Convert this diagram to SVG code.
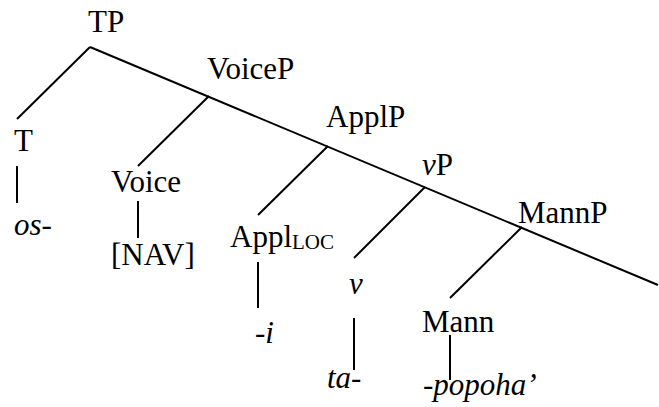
<svg xmlns="http://www.w3.org/2000/svg" width="659" height="407" viewBox="0 0 659 407">
<style>
.it{font-style:italic}
line{stroke:#000;stroke-width:2;fill:none}
</style>
<rect width="659" height="407" fill="#fff"/>
<g id="connectors">
<line x1="90" y1="47" x2="658" y2="285"/>
<line x1="90" y1="47" x2="17" y2="119"/>
<line x1="17" y1="166" x2="17" y2="203"/>
<line x1="209" y1="96" x2="138" y2="166"/>
<line x1="138" y1="201" x2="138" y2="238"/>
<line x1="328" y1="146" x2="258" y2="215"/>
<line x1="258" y1="262" x2="258" y2="308"/>
<line x1="425" y1="187" x2="354" y2="258"/>
<line x1="354" y1="318" x2="354" y2="370"/>
<line x1="522" y1="227" x2="450" y2="298"/>
<line x1="450" y1="335" x2="450" y2="380"/>
</g>
<g id="TP"><text x="88" y="32" font-family="Liberation Serif" font-size="31">TP</text></g>
<g id="T"><text x="14" y="151" font-family="Liberation Serif" font-size="31">T</text></g>
<g id="os"><text class="it" x="14" y="235" font-family="Liberation Serif" font-size="31">os-</text></g>
<g id="VoiceP"><text x="207" y="79" font-family="Liberation Serif" font-size="31">VoiceP</text></g>
<g id="Voice"><text x="111" y="192" font-family="Liberation Serif" font-size="31">Voice</text></g>
<g id="NAV"><text x="111" y="265" font-family="Liberation Serif" font-size="31">[NAV]</text></g>
<g id="ApplP"><text x="326" y="127" font-family="Liberation Serif" font-size="31">ApplP</text></g>
<g id="Appl"><text x="230" y="247" font-family="Liberation Serif" font-size="31">Appl<tspan font-size="21" dy="2">LOC</tspan></text></g>
<g id="i"><text class="it" x="255" y="343" font-family="Liberation Serif" font-size="31">-i</text></g>
<g id="vP"><text x="422" y="175" font-family="Liberation Serif" font-size="31"><tspan class="it">v</tspan>P</text></g>
<g id="v"><text class="it" x="349" y="294" font-family="Liberation Serif" font-size="31">v</text></g>
<g id="ta"><text class="it" x="327" y="388" font-family="Liberation Serif" font-size="31">ta-</text></g>
<g id="MannP"><text x="518" y="223" font-family="Liberation Serif" font-size="31">MannP</text></g>
<g id="Mann"><text x="422" y="332" font-family="Liberation Serif" font-size="31">Mann</text></g>
<g id="popoha"><text class="it" x="423" y="395" font-family="Liberation Serif" font-size="31">-popoha’</text></g>
</svg>
